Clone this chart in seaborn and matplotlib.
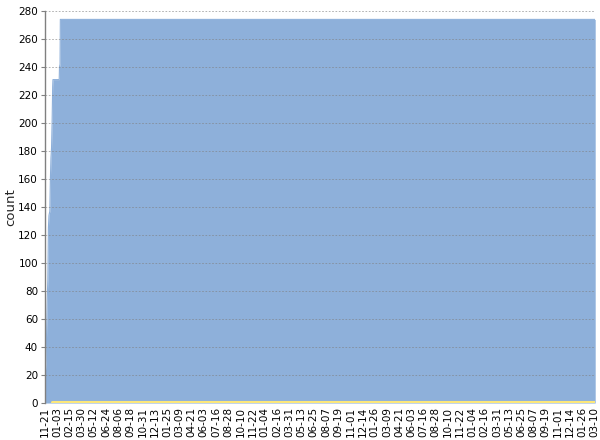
import matplotlib
matplotlib.use("Agg")
import matplotlib.pyplot as plt
import pandas as pd
import seaborn as sns

# Cumulative count (blue area) at the change points
start = pd.Timestamp("2012-11-21")
end = pd.Timestamp("2018-03-12")
count_days = [0, 2, 4, 6, 8, 10, 12, 14, 17, 19, 21, 23, 25, 27, 28, 50, 51, 53, 54]
count_values = [23, 24, 30, 55, 75, 88, 125, 134, 137, 160, 175, 182, 200, 226, 231, 231, 240, 242, 274]

# Second series (yellow line near zero)
other_days = [26]
other_values = [1]

tick_step_days = 43

# Build the frames
df_count = pd.DataFrame({
    "date": [start + pd.Timedelta(days=d) for d in count_days] + [end],
    "count": count_values + [count_values[-1]],
})
df_other = pd.DataFrame({
    "date": [start + pd.Timedelta(days=d) for d in other_days] + [end],
    "count": other_values + [other_values[-1]],
})

sns.set_theme(style="white")
plt.rcParams["font.family"] = ["DejaVu Sans"]

fig, ax = plt.subplots(figsize=(6, 4.4), dpi=100)
fig.subplots_adjust(left=0.075, right=0.992, bottom=0.084, top=0.975)

# Blue area
ax.fill_between(df_count["date"], 0, df_count["count"], color="#8eb0da", linewidth=0, zorder=1)
sns.lineplot(data=df_count, x="date", y="count", ax=ax, color="#8eb0da", linewidth=0.8, zorder=1)

# Yellow series
ax.fill_between(df_other["date"], 0, df_other["count"], color="#fce77a", linewidth=0, zorder=4)
sns.lineplot(data=df_other, x="date", y="count", ax=ax, color="#fce77a", linewidth=2.2, zorder=4)

# Axes limits and ticks
ax.set_xlim(start, end)
ax.set_ylim(0, 280)
ax.set_yticks(range(0, 281, 20))
ticks = pd.date_range(start, end, freq=f"{tick_step_days}D")
ax.set_xticks(ticks)
ax.set_xticklabels([t.strftime("%m-%d") for t in ticks], rotation=90, fontsize=7.5, color="black")
ax.tick_params(axis="y", labelsize=7.5, labelcolor="black", length=3, width=0.8, color="#808080", pad=2, left=True)
ax.tick_params(axis="x", length=0, pad=3)

# Dashed grid over the area
ax.yaxis.grid(True, linestyle=(0, (2, 2)), color="#808080", linewidth=0.6, alpha=0.7, zorder=3)
ax.set_axisbelow(False)

for side in ["top", "right", "bottom"]:
    ax.spines[side].set_visible(False)
ax.spines["left"].set_color("#808080")
ax.spines["left"].set_linewidth(1)

ax.set_xlabel("")
ax.set_ylabel("count", fontsize=9.5)
ax.yaxis.set_label_coords(-0.05, 0.5)

fig.savefig("out.png")
